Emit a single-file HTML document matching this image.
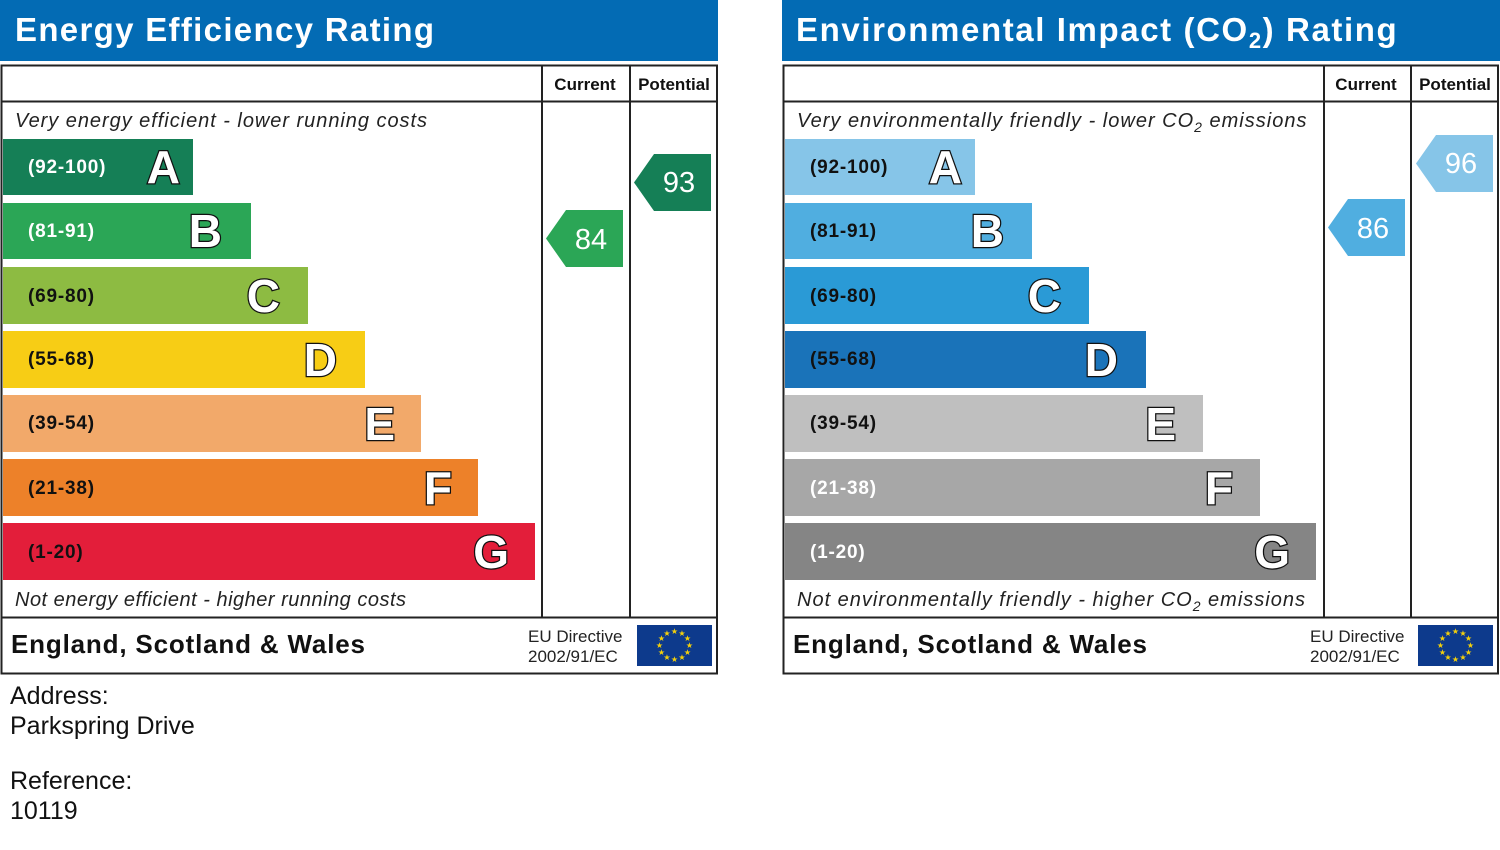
<!DOCTYPE html>
<html><head><meta charset="utf-8"><style>
body{margin:0;background:#fff}
svg text{font-family:"Liberation Sans",Arial,sans-serif}
.lt{font-weight:bold;font-size:46px;fill:#fff;stroke:#111;stroke-width:2.5px;paint-order:stroke}
.rg{font-weight:bold;font-size:19px;letter-spacing:0.8px}
</style></head><body>
<svg width="1500" height="845" viewBox="0 0 1500 845" xmlns="http://www.w3.org/2000/svg">
<defs>
<g id="flag"><rect x="0" y="0" width="75" height="41" fill="#0d3a8c"/>
<g fill="#f5d10a" font-size="8" text-anchor="middle">
<text x="37.5" y="9">★</text><text x="45" y="11">★</text><text x="50.5" y="16">★</text><text x="52.5" y="23">★</text><text x="50.5" y="30">★</text><text x="45" y="35">★</text><text x="37.5" y="37">★</text><text x="30" y="35">★</text><text x="24.5" y="30">★</text><text x="22.5" y="23">★</text><text x="24.5" y="16">★</text><text x="30" y="11">★</text></g></g>
</defs>

<!-- LEFT PANEL -->
<rect x="0" y="0" width="718" height="61" fill="#036bb4"/>
<text x="15" y="41" font-size="33" font-weight="bold" fill="#fff" textLength="419" lengthAdjust="spacing">Energy Efficiency Rating</text>
<rect x="1.5" y="65.5" width="715.5" height="608" fill="none" stroke="#222" stroke-width="2"/>
<line x1="1" y1="101.5" x2="717" y2="101.5" stroke="#222" stroke-width="2"/>
<line x1="542" y1="66" x2="542" y2="617" stroke="#222" stroke-width="2"/>
<line x1="630" y1="66" x2="630" y2="617" stroke="#222" stroke-width="2"/>
<line x1="1" y1="617.5" x2="717" y2="617.5" stroke="#222" stroke-width="2"/>
<text x="585" y="90" font-size="17" font-weight="bold" text-anchor="middle" fill="#111">Current</text>
<text x="674" y="90" font-size="17" font-weight="bold" text-anchor="middle" fill="#111">Potential</text>
<text x="15" y="127" font-size="20" font-style="italic" fill="#222" textLength="412" lengthAdjust="spacing">Very energy efficient - lower running costs</text>
<text x="15" y="606" font-size="20" font-style="italic" fill="#222" textLength="391" lengthAdjust="spacing">Not energy efficient - higher running costs</text>
<g>
<rect x="3" y="139" width="190" height="56" fill="#157f56"/><text x="28" y="173" class="rg" fill="#fff">(92-100)</text><text x="180" y="183" class="lt" text-anchor="end">A</text>
<rect x="3" y="203" width="248" height="56" fill="#2ba656"/><text x="28" y="237" class="rg" fill="#fff">(81-91)</text><text x="222" y="247" class="lt" text-anchor="end">B</text>
<rect x="3" y="267" width="305" height="57" fill="#8dbb42"/><text x="28" y="302" class="rg" fill="#111">(69-80)</text><text x="280" y="312" class="lt" text-anchor="end">C</text>
<rect x="3" y="331" width="362" height="57" fill="#f7cd15"/><text x="28" y="365" class="rg" fill="#111">(55-68)</text><text x="337" y="376" class="lt" text-anchor="end">D</text>
<rect x="3" y="395" width="418" height="57" fill="#f2a96a"/><text x="28" y="429" class="rg" fill="#111">(39-54)</text><text x="395" y="440" class="lt" text-anchor="end">E</text>
<rect x="3" y="459" width="475" height="57" fill="#ed8129"/><text x="28" y="494" class="rg" fill="#111">(21-38)</text><text x="452" y="504" class="lt" text-anchor="end">F</text>
<rect x="3" y="523" width="532" height="57" fill="#e31e3a"/><text x="28" y="558" class="rg" fill="#111">(1-20)</text><text x="509" y="568" class="lt" text-anchor="end">G</text>
</g>
<polygon points="546,238.5 566,210 623,210 623,267 566,267" fill="#2ba656"/>
<text x="591" y="249" font-size="29" fill="#fff" text-anchor="middle">84</text>
<polygon points="634,182.5 654,154 711,154 711,211 654,211" fill="#157f56"/>
<text x="679" y="192" font-size="29" fill="#fff" text-anchor="middle">93</text>
<text x="11" y="653" font-size="26" font-weight="bold" fill="#111" textLength="354" lengthAdjust="spacing">England, Scotland &amp; Wales</text>
<text x="528" y="642" font-size="17" fill="#222">EU Directive</text>
<text x="528" y="662" font-size="17" fill="#222">2002/91/EC</text>
<use href="#flag" x="637" y="625"/>

<!-- RIGHT PANEL -->
<rect x="782" y="0" width="718" height="61" fill="#036bb4"/>
<text x="796" y="41" font-size="33" font-weight="bold" fill="#fff" letter-spacing="1.6">Environmental Impact (CO<tspan font-size="22" dy="7">2</tspan><tspan dy="-7">) Rating</tspan></text>
<rect x="783.5" y="65.5" width="714.5" height="608" fill="none" stroke="#222" stroke-width="2"/>
<line x1="783" y1="101.5" x2="1498" y2="101.5" stroke="#222" stroke-width="2"/>
<line x1="1324" y1="66" x2="1324" y2="617" stroke="#222" stroke-width="2"/>
<line x1="1411" y1="66" x2="1411" y2="617" stroke="#222" stroke-width="2"/>
<line x1="783" y1="617.5" x2="1498" y2="617.5" stroke="#222" stroke-width="2"/>
<text x="1366" y="90" font-size="17" font-weight="bold" text-anchor="middle" fill="#111">Current</text>
<text x="1455" y="90" font-size="17" font-weight="bold" text-anchor="middle" fill="#111">Potential</text>
<text x="797" y="127" font-size="20" font-style="italic" fill="#222" letter-spacing="1">Very environmentally friendly - lower CO<tspan font-size="14" dy="5">2</tspan><tspan dy="-5"> emissions</tspan></text>
<text x="797" y="606" font-size="20" font-style="italic" fill="#222" letter-spacing="1">Not environmentally friendly - higher CO<tspan font-size="14" dy="5">2</tspan><tspan dy="-5"> emissions</tspan></text>
<g>
<rect x="785" y="139" width="190" height="56" fill="#86c5e8"/><text x="810" y="173" class="rg" fill="#111">(92-100)</text><text x="962" y="183" class="lt" text-anchor="end">A</text>
<rect x="785" y="203" width="247" height="56" fill="#50aee0"/><text x="810" y="237" class="rg" fill="#111">(81-91)</text><text x="1004" y="247" class="lt" text-anchor="end">B</text>
<rect x="785" y="267" width="304" height="57" fill="#2a9ad6"/><text x="810" y="302" class="rg" fill="#111">(69-80)</text><text x="1061" y="312" class="lt" text-anchor="end">C</text>
<rect x="785" y="331" width="361" height="57" fill="#1a73b9"/><text x="810" y="365" class="rg" fill="#111">(55-68)</text><text x="1118" y="376" class="lt" text-anchor="end">D</text>
<rect x="785" y="395" width="418" height="57" fill="#bfbfbf"/><text x="810" y="429" class="rg" fill="#111">(39-54)</text><text x="1176" y="440" class="lt" text-anchor="end">E</text>
<rect x="785" y="459" width="475" height="57" fill="#a7a7a7"/><text x="810" y="494" class="rg" fill="#fff">(21-38)</text><text x="1233" y="504" class="lt" text-anchor="end">F</text>
<rect x="785" y="523" width="531" height="57" fill="#858585"/><text x="810" y="558" class="rg" fill="#fff">(1-20)</text><text x="1290" y="568" class="lt" text-anchor="end">G</text>
</g>
<polygon points="1328,227.5 1348,199 1405,199 1405,256 1348,256" fill="#50aee0"/>
<text x="1373" y="238" font-size="29" fill="#fff" text-anchor="middle">86</text>
<polygon points="1416,163.5 1436,135 1493,135 1493,192 1436,192" fill="#86c5e8"/>
<text x="1461" y="173" font-size="29" fill="#fff" text-anchor="middle">96</text>
<text x="793" y="653" font-size="26" font-weight="bold" fill="#111" textLength="354" lengthAdjust="spacing">England, Scotland &amp; Wales</text>
<text x="1310" y="642" font-size="17" fill="#222">EU Directive</text>
<text x="1310" y="662" font-size="17" fill="#222">2002/91/EC</text>
<use href="#flag" x="1418" y="625"/>

<!-- Address -->
<g font-size="25" fill="#111">
<text x="10" y="704">Address:</text>
<text x="10" y="734">Parkspring Drive</text>
<text x="10" y="789">Reference:</text>
<text x="10" y="819">10119</text>
</g>
</svg>
</body></html>
